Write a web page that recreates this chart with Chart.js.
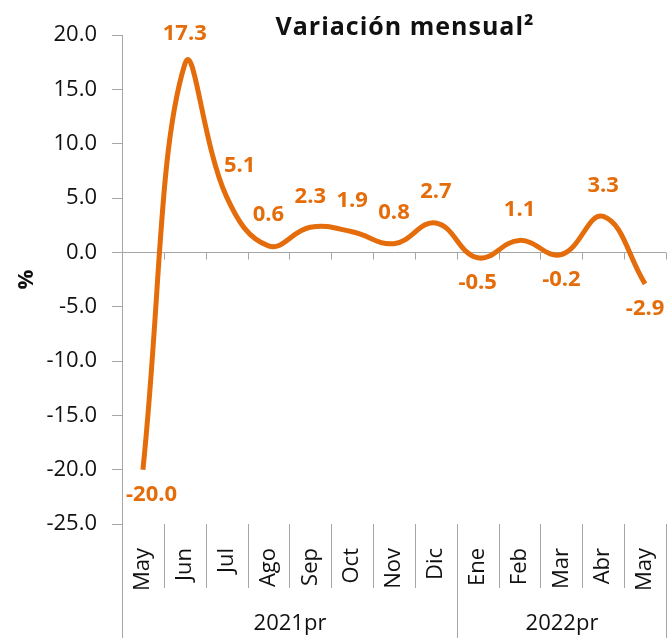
<!DOCTYPE html>
<html lang="es">
  <head>
    <meta charset="UTF-8" />
    <title>Variación mensual</title>
    <script src="https://cdn.jsdelivr.net/npm/chart.js"></script>
    <style>
      html,
      body {
        margin: 0;
        padding: 0;
        background: #fff;
      }
      .chart-box {
        position: relative;
        width: 667px;
        height: 642px;
      }
    </style>
  </head>
  <body>
    <div class="chart-box"><canvas id="monthlyChart"></canvas></div>

    <script>
      // data
      const months = ["May", "Jun", "Jul", "Ago", "Sep", "Oct", "Nov", "Dic", "Ene", "Feb", "Mar", "Abr", "May"];
      const variation = [-20.0, 17.3, 5.1, 0.6, 2.3, 1.9, 0.8, 2.7, -0.5, 1.1, -0.2, 3.3, -2.9];
      const years = ["2021pr", "2022pr"];
      const monthsPerYear = [8, 5];
      const yMin = -25;
      const yMax = 20;
      const yStep = 5;

      const ORANGE = "#E46C0A";
      const AXIS = "#A6A6A6";
      const TEXT = "#111";
      const FONT = "'Open Sans', sans-serif";

      Chart.defaults.font.family = FONT;
      Chart.defaults.font.size = 22;
      Chart.defaults.color = TEXT;

      // title, value labels, the zero-line ticks and the two-level category axis
      const extras = {
        id: "extras",
        afterDatasetsDraw(chart) {
          const { ctx, chartArea: area } = chart;
          const meta = chart.getDatasetMeta(0);
          ctx.save();
          ctx.font = "bold 22px " + FONT;
          ctx.fillStyle = ORANGE;
          ctx.textAlign = "center";
          ctx.textBaseline = "middle";
          meta.data.forEach((pt, i) => {
            const v = variation[i];
            const txt = v.toFixed(1);
            const w = ctx.measureText(txt).width;
            let x = pt.x;
            // keep the label off the line after a steep fall
            if (i > 0 && variation[i - 1] - v > 8) x += 13;
            x = Math.max(x, area.left + w / 2 + 4);
            x = Math.min(x, chart.width - w / 2 - 1);
            const y = v >= 0 ? pt.y - 31 : pt.y + 25;
            ctx.fillText(txt, x, y);
          });
          ctx.restore();
        },
        afterDraw(chart) {
          const { ctx, chartArea: area, scales } = chart;
          const x = scales.x;
          const y = scales.y;
          const zeroY = Math.round(y.getPixelForValue(0)) + 0.5;
          const edge = (i) => Math.round(x.getPixelForValue(i - 0.5)) + 0.5;
          const bandBottom = area.bottom + 64;
          const groupBottom = chart.height - 4;

          ctx.save();
          ctx.strokeStyle = AXIS;
          ctx.lineWidth = 1;
          ctx.beginPath();
          ctx.moveTo(edge(0), area.bottom);
          ctx.lineTo(edge(0), groupBottom);
          for (let i = 1; i <= months.length; i++) {
            ctx.moveTo(edge(i), zeroY);
            ctx.lineTo(edge(i), zeroY + 7);
            ctx.moveTo(edge(i), area.bottom);
            ctx.lineTo(edge(i), bandBottom);
          }
          let k = 0;
          monthsPerYear.forEach((n) => {
            k += n;
            ctx.moveTo(edge(k), bandBottom);
            ctx.lineTo(edge(k), groupBottom);
          });
          ctx.stroke();

          // year labels
          ctx.fillStyle = TEXT;
          ctx.font = "22px " + FONT;
          ctx.textAlign = "center";
          ctx.textBaseline = "middle";
          k = 0;
          years.forEach((yr, i) => {
            const a = edge(k);
            k += monthsPerYear[i];
            ctx.fillText(yr, (a + edge(k)) / 2, area.bottom + 100);
          });

          // title
          ctx.font = "bold 25px " + FONT;
          ctx.letterSpacing = "1px";
          ctx.textBaseline = "alphabetic";
          ctx.fillText("Variación mensual²", (area.left + area.right) / 2 + 11, 35);
          ctx.restore();
        },
      };

      const ctxMonthly = document.getElementById("monthlyChart").getContext("2d");
      const monthlyChart = new Chart(ctxMonthly, {
        type: "line",
        data: {
          labels: months,
          datasets: [
            {
              label: "Variación mensual",
              data: variation,
              borderColor: ORANGE,
              borderWidth: 5,
              pointRadius: 0,
              tension: 0.42,
              fill: false,
            },
          ],
        },
        options: {
          responsive: true,
          maintainAspectRatio: false,
          animation: false,
          layout: { padding: { top: 35, right: 1, left: 0, bottom: 0 } },
          plugins: {
            legend: { display: false },
            tooltip: { enabled: false },
          },
          scales: {
            x: {
              type: "category",
              offset: true,
              grid: { display: false },
              border: { display: false },
              ticks: {
                minRotation: 90,
                maxRotation: 90,
                padding: 16,
                autoSkip: false,
                font: { size: 22 },
              },
              afterFit(scale) {
                scale.height = 118;
                scale.paddingLeft = 0;
                scale.paddingRight = 0;
              },
            },
            y: {
              min: yMin,
              max: yMax,
              border: { color: AXIS, width: 1 },
              grid: {
                drawOnChartArea: true,
                color: (c) => (c.tick && c.tick.value === 0 ? AXIS : "transparent"),
                tickColor: AXIS,
                tickLength: 10,
              },
              ticks: {
                stepSize: yStep,
                padding: 15,
                callback: (v) => Number(v).toFixed(1),
              },
              title: {
                display: true,
                text: "%",
                font: { size: 22, weight: "bold" },
                padding: { top: 14, bottom: 0 },
              },
              afterFit(scale) {
                scale.width = 122;
              },
            },
          },
        },
        plugins: [extras],
      });
    </script>
  </body>
</html>
